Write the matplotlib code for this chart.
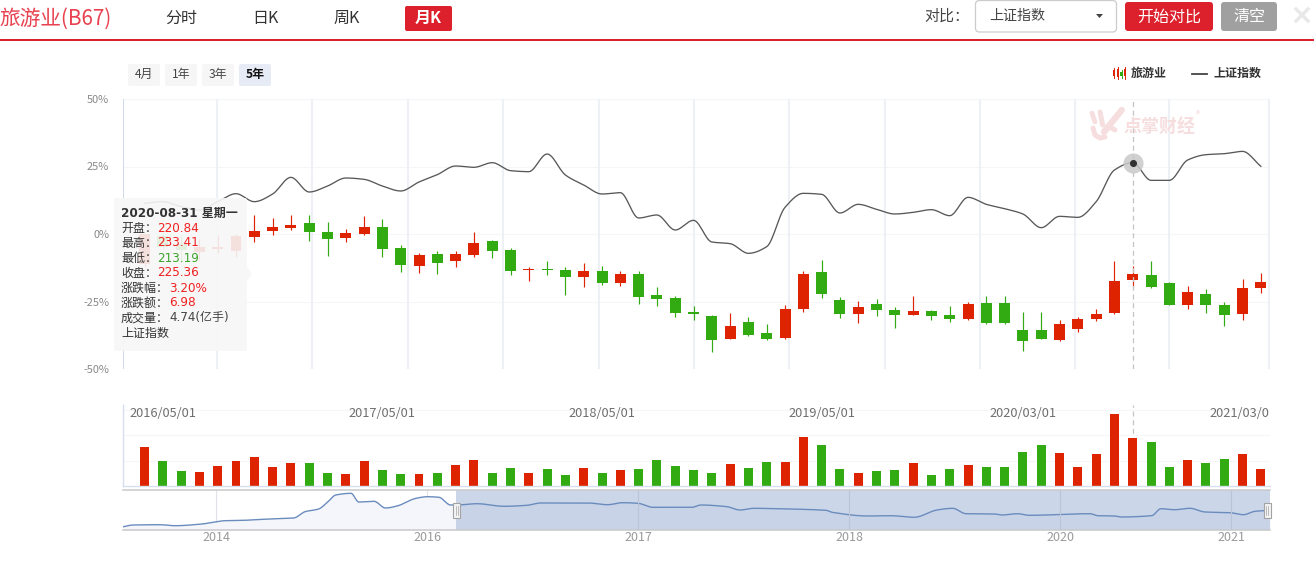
import numpy as np
import matplotlib
matplotlib.use("Agg")
import matplotlib.pyplot as plt
from matplotlib.patches import Rectangle, FancyBboxPatch, Polygon

plt.rcParams['font.family'] = ['Noto Sans CJK SC', 'DejaVu Sans']
plt.rcParams['axes.unicode_minus'] = False
TIP_FONT = ['DejaVu Sans', 'Noto Sans CJK SC']

# ---------- data ----------
opens = [-11.1,-0.74,-3.7,-6.5,-5.4,-6.2,-1.0,1.2,2.3,4.1,0.7,-1.4,0.1,2.6,-5.2,
         -11.85,-7.41,-10.0,-7.78,-2.59,-5.93,-13.33,-12.96,-13.33,-15.93,-13.7,-18.15,-14.81,-22.59,-23.7,-28.89,
         -30.37,-38.89,-32.59,-36.67,-38.52,-27.78,-14.07,-24.44,-29.63,-25.93,-28.15,-30.0,-28.52,-30.0,-31.48,-25.56,
         -25.56,-35.56,-35.56,-39.26,-35.19,-31.48,-29.26,-17.04,-15.19,-18.15,-26.3,-22.22,-26.3,-29.63,-20.0]
closes = [0.0,-4.7,-5.9,-4.8,-4.8,-0.7,1.1,2.6,3.3,0.9,-1.7,0.4,2.6,-5.4,-11.4,
          -7.78,-10.74,-7.41,-3.33,-6.3,-13.7,-12.96,-13.33,-15.93,-13.7,-18.15,-14.81,-23.33,-24.07,-29.26,-29.63,
          -39.26,-34.07,-37.41,-38.89,-27.78,-14.81,-22.22,-29.63,-27.04,-28.15,-30.0,-28.52,-30.37,-31.48,-25.93,-32.96,
          -32.96,-39.63,-38.89,-33.33,-31.48,-29.63,-17.41,-14.81,-19.63,-26.3,-21.48,-26.3,-30.0,-20.0,-17.78]
highs = [0.2,0.0,-0.4,-1.9,-0.4,0.0,7.0,5.9,7.0,7.0,4.4,1.9,6.7,5.6,-4.1,
         -7.04,-6.3,-6.3,0.74,-2.22,-5.19,-12.22,-9.99,-12.22,-10.74,-11.85,-13.7,-13.7,-19.63,-22.96,-26.67,
         -30.0,-29.26,-30.74,-33.33,-26.3,-13.7,-9.63,-23.33,-24.81,-24.07,-27.04,-22.96,-28.15,-26.67,-25.19,-22.96,
         -22.96,-28.89,-28.89,-31.85,-30.74,-27.78,-10.0,-11.85,-10.0,-17.78,-19.26,-20.37,-25.19,-16.67,-14.44]
lows = [-12.4,-5.7,-10.9,-9.6,-7.2,-8.4,-2.8,-0.25,1.6,-2.5,-8.0,-2.8,-0.25,-8.4,-14.0,
        -14.44,-14.81,-12.22,-8.52,-8.89,-15.19,-17.41,-15.19,-22.59,-19.63,-18.89,-19.26,-25.93,-26.67,-30.74,-31.85,
        -43.7,-38.89,-37.78,-39.26,-38.89,-28.89,-23.7,-31.11,-32.96,-30.37,-34.81,-30.0,-31.85,-32.59,-31.85,-33.33,
        -33.33,-43.33,-38.89,-39.63,-36.3,-32.22,-29.63,-19.63,-20.0,-26.3,-27.78,-29.26,-34.07,-31.85,-21.85]
index_line = [11.35,11.97,10.12,8.89,11.97,14.93,11.97,14.81,20.98,15.55,17.77,20.74,20.24,17.77,15.93,
              19.26,21.98,25.19,24.69,26.42,23.46,23.09,29.63,21.85,18.15,14.81,15.31,5.93,7.04,1.48,5.06,
              -2.96,-3.58,-7.16,-4.69,9.88,15.06,14.69,7.78,10.99,9.14,7.41,8.02,9.01,6.79,13.58,10.98,
              9.38,7.4,2.34,6.54,6.17,11.97,23.7,26.42,19.87,19.87,27.4,29.38,29.75,30.6,25.06]
volumes = [3.85,2.47,1.48,1.38,1.97,2.47,2.86,1.88,2.27,2.27,1.28,1.18,2.47,1.58,1.18,1.18,
           1.28,2.07,2.57,1.28,1.78,1.28,1.68,1.09,1.78,1.28,1.58,1.68,2.57,1.97,1.58,1.28,
           2.17,1.78,2.37,2.37,4.84,4.05,1.68,1.28,1.48,1.58,2.27,1.09,1.68,2.07,1.88,1.88,
           3.36,4.05,3.26,1.88,3.16,7.11,4.74,4.34,1.88,2.57,2.27,2.66,3.16,1.68]
date_positions = [1, 13, 25, 37, 48, 60]
date_labels = ['2016/05/01', '2017/05/01', '2018/05/01', '2019/05/01', '2020/03/01', '2021/03/01']
grid_positions = [3.98, 9.17, 14.39, 19.6, 24.84, 30.03, 35.23, 40.45, 45.66, 50.85, 55.97, 61.42]
y_ticks = [-50, -25, 0, 25, 50]
y_tick_labels = ['-50%', '-25%', '0%', '25%', '50%']
vol_ticks = [2.5, 5.0, 7.5]
hover_index = 54

slider_x = [123.4,133,159.8,175,201.8,215,224.8,244,263,293.7,305,318.6,328,335.8,351,358.8,374,385.5,397,416,
            427.6,439,450.6,456.3,477,504,527,540.5,588,607.5,622.8,638,653,691.7,701,
            727,740,753.6,776.5,826,832,868.4,891,914,937,952.6,966,994.7,1002,1017.6,1029,1090,1098,1115,1121,
            1151.6,1161,1174.6,1190,1205,1230,1243.4,1255,1270]
slider_y = [3.3,5,5.3,4.3,6,8,9.3,9.7,10.7,12,18.3,21,28.3,35,36.7,28,28.7,22,24,31.7,
            33.3,32.7,25,25,26.3,23.7,24.7,27,27,25.3,27.3,26.7,22.7,22.7,25,
            23.3,20,21.7,21.3,19.7,17.7,14,14.3,12.7,20,21.7,16.3,16,15,16.3,14.7,16.3,14.3,14,13,
            14.3,21.3,20.3,21.7,18,17.3,15.3,18.7,19.7]
slider_ticks = [216, 427, 638, 849, 1060, 1231]
slider_labels = ['2014', '2016', '2017', '2018', '2020', '2021']

tooltip_rows = [('开盘：', '220.84', '#f02020'), ('最高：', '233.41', '#f02020'), ('最低：', '213.19', '#3aa52a'),
                ('收盘：', '225.36', '#f02020'), ('涨跌幅：', '3.20%', '#f02020'), ('涨跌额：', '6.98', '#f02020'),
                ('成交量：', '4.74(亿手)', '#444444')]

RED, GREEN = '#de2300', '#32aa12'
W, H = 1314, 579
XMIN, XMAX = -1.175, 61.5


def smooth(x, y, n=14):
    """Monotone cubic rendering through the data points (flat at local extremes)."""
    x, y = np.asarray(x, float), np.asarray(y, float)
    d = np.diff(y) / np.diff(x)
    m = np.zeros_like(y)
    for i in range(1, len(y) - 1):
        if d[i - 1] * d[i] > 0:
            m[i] = 2 * d[i - 1] * d[i] / (d[i - 1] + d[i])
    m[0], m[-1] = d[0], d[-1]
    xs, ys = [], []
    for i in range(len(x) - 1):
        h = x[i + 1] - x[i]
        t = np.linspace(0, 1, n, endpoint=False)
        xs.append(x[i] + t * h)
        ys.append((2*t**3 - 3*t**2 + 1) * y[i] + (t**3 - 2*t**2 + t) * h * m[i]
                  + (-2*t**3 + 3*t**2) * y[i + 1] + (t**3 - t**2) * h * m[i + 1])
    xs.append(x[-1:]); ys.append(y[-1:])
    return np.concatenate(xs), np.concatenate(ys)


def axes_px(x0, y0, x1, y1, **kw):
    return fig.add_axes([x0 / W, 1 - y1 / H, (x1 - x0) / W, (y1 - y0) / H], **kw)


fig = plt.figure(figsize=(W / 100, H / 100), dpi=100, facecolor='white')

# ---------- main candle chart ----------
ax = axes_px(123, 99, 1270, 369)
ax.set_xlim(XMIN, XMAX)
ax.set_ylim(-50, 50)
for s in ax.spines.values():
    s.set_visible(False)
ax.set_xticks([])
ax.set_yticks(y_ticks)
ax.set_yticklabels(y_tick_labels, fontsize=7.9, color='#888888')
ax.tick_params(axis='y', length=0, pad=10)
ax.hlines(y_ticks, XMIN, XMAX, color='#f5f6f9', lw=0.8, zorder=0)
ax.vlines(grid_positions, -50, 50, color='#edf0f5', lw=1.5, zorder=0)
ax.vlines([XMIN + 0.02], -50, 50, color='#c9d8ec', lw=1.3, zorder=0)

idx = np.arange(len(opens))
colors = [RED if c >= o else GREEN for o, c in zip(opens, closes)]
ax.vlines(idx, lows, highs, colors=colors, lw=0.85, zorder=2)
bodies = np.array(closes) - np.array(opens)
ax.bar(idx, bodies, bottom=opens, width=0.6, color=colors, linewidth=0, zorder=3)
lx, ly = smooth(idx, index_line)
ax.plot(lx, ly, color='#585858', lw=0.95, zorder=4)
ax.vlines([hover_index], -50, 50, color='#c4c4c4', lw=0.9, linestyles=(0, (4, 3)), zorder=5)
ax.scatter([hover_index], [index_line[hover_index]], s=210, color='#c9c9c9', alpha=0.85, linewidths=0, zorder=5)
ax.scatter([hover_index], [index_line[hover_index]], s=26, color='#333333', linewidths=0, zorder=6)

# ---------- volume ----------
axv = axes_px(123, 405, 1270, 486)
axv.set_xlim(XMIN, XMAX)
axv.set_ylim(0, 8.0)
for k, s in axv.spines.items():
    s.set_visible(k in ('left', 'bottom'))
    s.set_color('#d6dfee')
    s.set_linewidth(1.0)
axv.set_xticks([])
axv.set_yticks([])
axv.hlines(vol_ticks, XMIN, XMAX, color='#f5f6f9', lw=0.8, zorder=0)
axv.vlines([hover_index], 0, 8, color='#c4c4c4', lw=0.9, linestyles=(0, (4, 3)), zorder=0)
axv.bar(idx, volumes, width=0.49, color=colors, linewidth=0, zorder=2)
for p, lab in zip(date_positions, date_labels):
    t = axv.text(p, 7.15, lab, ha='center', va='center', fontsize=9.2, color='#6e6e6e', clip_on=True, zorder=3)
    t.set_clip_path(axv.patch)

# ---------- slider ----------
axs = axes_px(123, 490, 1270, 530)
axs.set_xlim(123, 1270)
axs.set_ylim(0, 40)
for k, s in axs.spines.items():
    s.set_visible(k in ('top', 'bottom'))
    s.set_color('#c9c9c9')
    s.set_linewidth(1.1)
axs.set_yticks([])
axs.set_xticks(slider_ticks)
axs.set_xticklabels(slider_labels, fontsize=9, color='#9a9a9a')
axs.tick_params(axis='x', length=0, pad=0.5)
axs.vlines(slider_ticks, 0, 40, color='#dfe2e8', lw=0.8, zorder=0)
sx, sy = smooth(slider_x, slider_y)
axs.fill_between(sx, 0, sy, color='#f4f6fb', linewidth=0, zorder=1)
axs.axvspan(456, 1270, color='#b4c3df', alpha=0.68, linewidth=0, zorder=2)
axs.plot(sx, sy, color='#6a8cbd', lw=1.0, zorder=3)
axs.vlines(slider_ticks[2:], 0, 40, color='#b9c4d8', lw=0.8, zorder=3)

# ---------- overlay: page furniture, tooltip, legend ----------
ui = fig.add_axes([0, 0, 1, 1], zorder=10)
ui.set_xlim(0, W)
ui.set_ylim(H, 0)
ui.axis('off')
ui.patch.set_alpha(0)


def txt(x, y, s, px=12, color='#333333', ha='left', weight='normal', **kw):
    return ui.text(x, y, s, fontsize=px * 0.72, color=color, ha=ha, va='center', fontweight=weight, **kw)


def box(x0, y0, x1, y1, fc, ec='none', r=2, lw=0):
    p = FancyBboxPatch((x0 + r, y0 + r), x1 - x0 - 2 * r, y1 - y0 - 2 * r,
                       boxstyle=f'round,pad={r},rounding_size={r}', fc=fc, ec=ec, lw=lw)
    ui.add_patch(p)


txt(-1, 19, '旅游业(B67)', 20.7, '#e8414f')
txt(181, 18, '分时', 16, '#333333', 'center')
txt(265, 18, '日K', 16, '#333333', 'center')
txt(347, 18, '周K', 16, '#333333', 'center')
box(405, 6, 452, 31, '#dc202c')
txt(428.5, 18, '月K', 16, '#ffffff', 'center', 'bold')
ui.add_patch(Rectangle((0, 39), W, 2, fc='#d9202c', ec='none'))

for x0, lab, fc, col, wt in [(128, '4月', '#f6f6f7', '#444444', 'normal'), (165, '1年', '#f6f6f7', '#444444', 'normal'),
                             (202, '3年', '#f6f6f7', '#444444', 'normal'), (239, '5年', '#e7ebf5', '#111111', 'bold')]:
    box(x0, 64, x0 + 32, 86, fc)
    txt(x0 + 16, 74.5, lab, 12, col, 'center', wt)

txt(947, 17, '对比：', 15, '#444444', 'center')
box(975.5, 0.5, 1116.5, 32, '#ffffff', '#cccccc', 4, 0.9)
txt(989, 16, '上证指数', 14, '#444444')
ui.add_patch(Polygon([[1096, 14], [1103, 14], [1099.5, 18]], fc='#444444', ec='none'))
box(1125, 2, 1213, 31, '#dc202c', r=3)
txt(1169, 17, '开始对比', 16, '#ffffff', 'center')
box(1221, 2, 1277, 31, '#a0a0a0', r=3)
txt(1249, 17, '清空', 16, '#ffffff', 'center')
ui.plot([1296, 1308], [9, 21], color='#e8e8e8', lw=2.4)
ui.plot([1308, 1296], [9, 21], color='#e8e8e8', lw=2.4)

# legend
for xx, (a, b, c, d), col in [(1114, (68, 78, 70, 76), RED), (1118, (67, 79, 69, 77), RED),
                              (1121.5, (70, 78, 72, 76), GREEN), (1125, (67, 79, 69, 76), RED)]:
    ui.plot([xx, xx], [a, b], color=col, lw=0.7)
    ui.add_patch(Rectangle((xx - 1.2, c), 2.4, d - c, fc=col, ec='none'))
txt(1131, 73.5, '旅游业', 12, '#333333', weight='bold')
ui.plot([1192, 1207], [74, 74], color='#444444', lw=1.3)
txt(1214, 73.5, '上证指数', 12, '#333333', weight='bold')

# watermark
wm = '#f6dedf'
for seg, lw_ in [(([1092, 1095], [113, 122]), 3.4), (([1100, 1102.7], [112, 125]), 3.6),
                 (([1121.7, 1104], [110, 132]), 4.6), (([1108, 1115], [126, 130]), 3.6),
                 (([1093, 1095, 1100, 1105], [128, 135, 138, 137]), 3.6)]:
    ui.plot(seg[0], seg[1], color=wm, lw=lw_, solid_capstyle='round')
txt(1123, 127, '点掌财经', 18, wm, weight='bold')
txt(1196, 115, '®', 8, wm)

# slider handles
for hx in (456.5, 1267):
    ui.add_patch(Rectangle((hx - 3.5, 503), 7, 15, fc='#f4f4f4', ec='#a3a3a3', lw=0.8))
    ui.plot([hx - 1, hx - 1], [506, 515], color='#a3a3a3', lw=0.5)
    ui.plot([hx + 1, hx + 1], [506, 515], color='#a3a3a3', lw=0.5)

# tooltip
box(114, 198, 247, 351, (0.968, 0.968, 0.968, 0.9), r=2)
ui.add_patch(Polygon([[247, 267], [252, 274], [247, 281]], fc=(0.968, 0.968, 0.968, 0.9), ec='none'))
txt(121, 213, '2020-08-31 星期一', 12, '#333333', weight='bold', family=TIP_FONT)
for n, (lab, val, col) in enumerate(tooltip_rows):
    y = 228 + n * 15
    txt(121, y, lab, 12, '#333333')
    txt(121 + 12 * len(lab), y, val, 12, col, family=TIP_FONT)
txt(121, 333, '上证指数', 12, '#333333')

fig.savefig('out.png', dpi=100, facecolor='white')
